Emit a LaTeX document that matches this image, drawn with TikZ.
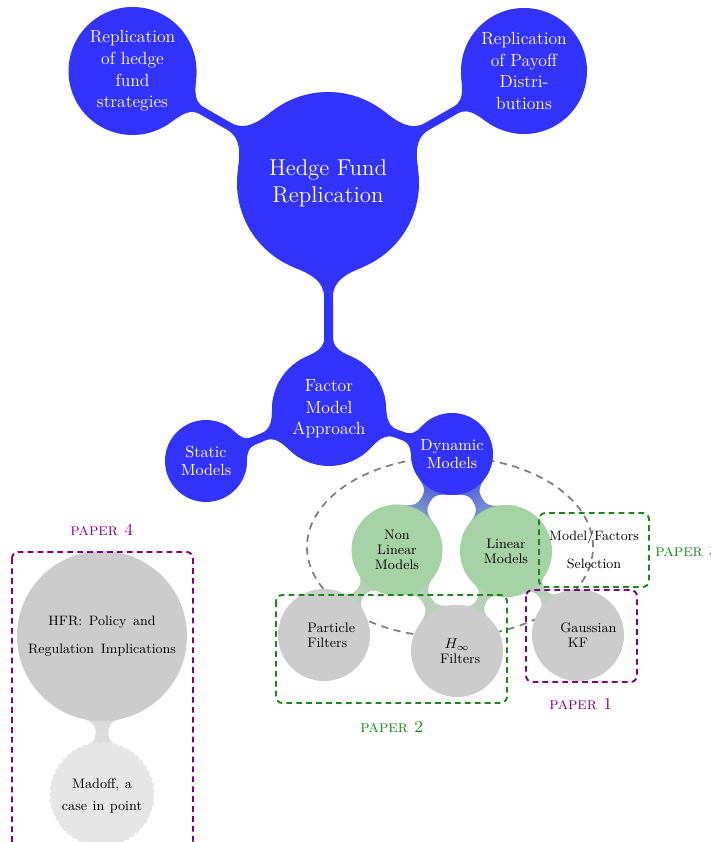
\documentclass[tikz,border=0pt]{standalone}
\usepackage{fontspec}
\usetikzlibrary{decorations.pathmorphing}
\definecolor{mmblue}{RGB}{51,51,255}
\definecolor{mmgreen}{RGB}{166,211,166}
\definecolor{mmgray}{RGB}{204,204,204}
\definecolor{mmlight}{RGB}{230,230,230}
\definecolor{papergreen}{RGB}{25,135,25}
\definecolor{paperpurple}{RGB}{128,0,128}
\definecolor{ellgray}{RGB}{128,128,128}
\newcommand\widespHFR{\spaceskip=4.2pt plus 1pt\relax}
\newcommand\widespMad{\spaceskip=3.4pt plus 1pt\relax}
\pgfdeclarelayer{background}
\pgfsetlayers{background,main}
% mind-map style connection: #1,#2 node names, #3,#4 radii (pt, numbers), #5,#6 colours, #7 half neck width (pt, number)
\newcommand\mmconn[7]{%
  \pgfpointanchor{#1}{center}\pgfgetlastxy{\mmxa}{\mmya}%
  \pgfpointanchor{#2}{center}\pgfgetlastxy{\mmxb}{\mmyb}%
  \pgfmathsetmacro\mmang{atan2(\mmyb-\mmya,\mmxb-\mmxa)}%
  \pgfmathsetmacro\mmgap{veclen(\mmxb-\mmxa,\mmyb-\mmya)-#3-#4}%
  \pgfmathsetmacro\mmda{min(40,1250/#3)}%
  \pgfmathsetmacro\mmdb{min(40,1250/#4)}%
  \pgfmathsetmacro\mmga{#3+min(0.25*#3,0.45*\mmgap)}%
  \pgfmathsetmacro\mmgb{#4+min(0.25*#4,0.45*\mmgap)}%
  \pgfmathsetmacro\mmshade{\mmang-90}%
  \pgfmathsetmacro\mmoA{\mmang+\mmda-90}%
  \pgfmathsetmacro\mmiB{\mmang+270-\mmdb}%
  \pgfmathsetmacro\mmoB{\mmang+90+\mmdb}%
  \pgfmathsetmacro\mmiA{\mmang+90-\mmda}%
  \pgfmathsetmacro\mmback{\mmang+180}%
  \pgfmathsetmacro\mmcx{cos(\mmang)}\pgfmathsetmacro\mmcy{sin(\mmang)}%
  \pgfmathsetmacro\mmnx{-(#7)*\mmcy}\pgfmathsetmacro\mmny{(#7)*\mmcx}%
  \pgfmathsetmacro\PAx{\mmxa+#3*cos(\mmang+\mmda)}\pgfmathsetmacro\PAy{\mmya+#3*sin(\mmang+\mmda)}%
  \pgfmathsetmacro\QAx{\mmxa+#3*cos(\mmang-\mmda)}\pgfmathsetmacro\QAy{\mmya+#3*sin(\mmang-\mmda)}%
  \pgfmathsetmacro\PBx{\mmxb+#4*cos(\mmang+180-\mmdb)}\pgfmathsetmacro\PBy{\mmyb+#4*sin(\mmang+180-\mmdb)}%
  \pgfmathsetmacro\QBx{\mmxb+#4*cos(\mmang+180+\mmdb)}\pgfmathsetmacro\QBy{\mmyb+#4*sin(\mmang+180+\mmdb)}%
  \pgfmathsetmacro\NAx{\mmxa+\mmga*\mmcx}\pgfmathsetmacro\NAy{\mmya+\mmga*\mmcy}%
  \pgfmathsetmacro\NBx{\mmxb-\mmgb*\mmcx}\pgfmathsetmacro\NBy{\mmyb-\mmgb*\mmcy}%
  \path[top color=#6,bottom color=#5,shading angle=\mmshade]
    (\PAx pt,\PAy pt) to[out=\mmoA,in=\mmback] (\NAx pt+\mmnx pt,\NAy pt+\mmny pt)
    -- (\NBx pt+\mmnx pt,\NBy pt+\mmny pt) to[out=\mmang,in=\mmiB] (\PBx pt,\PBy pt)
    -- (#2.center) -- (\QBx pt,\QBy pt)
    to[out=\mmoB,in=\mmang] (\NBx pt-\mmnx pt,\NBy pt-\mmny pt)
    -- (\NAx pt-\mmnx pt,\NAy pt-\mmny pt) to[out=\mmback,in=\mmiA] (\QAx pt,\QAy pt)
    -- (#1.center) -- cycle;
}
\begin{document}
\begin{tikzpicture}[x=0.625pt,y=-0.625pt,
  bub/.style={circle,inner sep=0pt,align=center},
  blueb/.style={bub,fill=mmblue,text=white},
  greenb/.style={bub,fill=mmgreen,text=black},
  grayb/.style={bub,fill=mmgray,text=black},
  froot/.style={font=\fontsize{14.3}{16.9}\selectfont},
  fone/.style={font=\fontsize{11}{13.5}\selectfont},
  fsd/.style={font=\fontsize{10.1}{11.5}\selectfont},
  fsmall/.style={font=\fontsize{8.6}{9.3}\selectfont},
  fwide/.style={font=\fontsize{8.5}{17.5}\selectfont},
  paperbox/.style={line width=1.2pt,dash pattern=on 3.6pt off 2.6pt,rounded corners=4pt},
  paperlabel/.style={font=\fontsize{10.5}{12}\selectfont\scshape,inner sep=0pt}
]
\useasboundingbox (0,0) rectangle (711,842);
\clip (0,0) rectangle (711,842);

% concepts
\node[blueb,froot,minimum size=113.75pt] (root) at (328,183) {Hedge Fund\\Replication};
\node[blueb,fone,minimum size=80pt] (tl) at (132.5,71) {Replication\\of hedge\\fund\\strategies};
\node[blueb,fone,minimum size=78.75pt] (tr) at (524,71) {Replication\\of Payoff\\Distri-\\butions};
\node[blueb,fone,minimum size=71.25pt] (fma) at (329,409) {Factor\\Model\\Approach};
\node[blueb,fsd,minimum size=51.25pt] (stat) at (206,461) {Static\\Models};
\node[blueb,fsd,minimum size=51.25pt] (dyn) at (452,454) {Dynamic\\Models};
\node[greenb,fsmall,minimum size=56.9pt] (nl) at (397,550) {Non\\Linear\\Models};
\node[greenb,fsmall,minimum size=57.5pt] (lin) at (506,551) {Linear\\Models};
\node[grayb,fsmall,minimum size=57.5pt,align=left] (pf) at (324,635) {\hspace*{9pt}Particle\\\hspace*{9pt}Filters};
\node[grayb,fsmall,minimum size=57.5pt] (hinf) at (457,651) {$H_\infty$\\\hspace*{4pt}Filters};
\node[grayb,fsmall,minimum size=57.5pt] (gkf) at (578,635) {\hspace*{13pt}Gaussian\\KF};
\node[grayb,fwide,minimum size=106.25pt] (hfr) at (102,636) {\widespHFR HFR: Policy and\\\widespHFR Regulation Implications};
\node[bub,fill=mmlight,text=black,font=\fontsize{8.6}{13.5}\selectfont,
  minimum size=65pt,decorate,decoration={snake,amplitude=0.5pt,segment length=4pt}] (mad) at (102,796) {\widespMad Madoff, a\\\widespMad case in point};
\node[align=center,inner sep=0pt,font=\fontsize{8.5}{17.5}\selectfont] (mfs) at (594,550) {Model/Factors\\Selection};

% connections and dashed ellipse behind
\begin{pgfonlayer}{background}
\draw[ellgray,line width=1.1pt,dash pattern=on 4.5pt off 3.5pt] (450,547) ellipse [x radius=89.4pt, y radius=56.25pt];
\mmconn{root}{tl}{56.9}{40}{mmblue}{mmblue}{2.5}
\mmconn{root}{tr}{56.9}{39.4}{mmblue}{mmblue}{2.5}
\mmconn{root}{fma}{56.9}{35.6}{mmblue}{mmblue}{2.8}
\mmconn{fma}{stat}{35.6}{25.6}{mmblue}{mmblue}{2.6}
\mmconn{fma}{dyn}{35.6}{25.6}{mmblue}{mmblue}{2.6}
\mmconn{dyn}{nl}{25.6}{28.4}{mmblue}{mmgreen}{3}
\mmconn{dyn}{lin}{25.6}{28.75}{mmblue}{mmgreen}{3}
\mmconn{nl}{pf}{28.4}{28.75}{mmgreen}{mmgray}{3}
\mmconn{nl}{hinf}{28.4}{28.75}{mmgreen}{mmgray}{3}
\mmconn{lin}{hinf}{28.75}{28.75}{mmgreen}{mmgray}{3}
\mmconn{lin}{gkf}{28.75}{28.75}{mmgreen}{mmgray}{3}
\mmconn{hfr}{mad}{53.1}{32.5}{mmgray}{mmlight}{4}
\end{pgfonlayer}

% paper boxes
\coordinate (p4a) at (12,552);
\coordinate (p4b) at (193,900);
\draw[paperbox,paperpurple] (p4a) rectangle (p4b);
\coordinate (p2a) at (276,595);
\coordinate (p2b) at (507,703);
\draw[paperbox,papergreen] (p2a) rectangle (p2b);
\coordinate (p3a) at (539,513);
\coordinate (p3b) at (649,587);
\draw[paperbox,papergreen] (p3a) rectangle (p3b);
\coordinate (p1a) at (526,590);
\coordinate (p1b) at (637,682);
\draw[paperbox,paperpurple] (p1a) rectangle (p1b);

\node[paperlabel,text=paperpurple] (l4) at (102,530) {paper 4};
\node[paperlabel,text=papergreen,anchor=west] (l3) at (655,551) {paper 3};
\node[paperlabel,text=papergreen] (l2) at (392,727) {paper 2};
\node[paperlabel,text=paperpurple] (l1) at (581,704) {paper 1};
\end{tikzpicture}
\end{document}
